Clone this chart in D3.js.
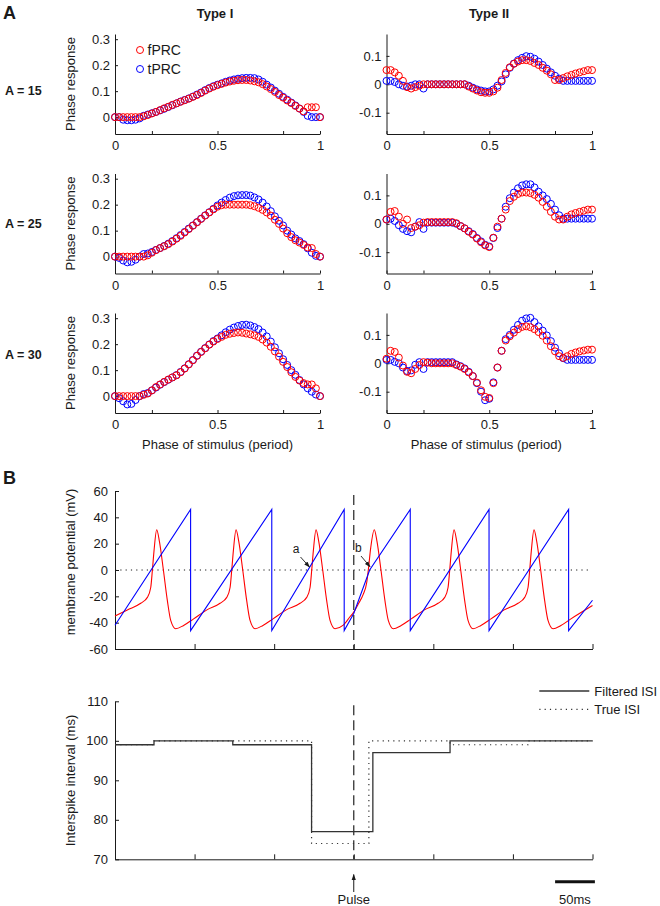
<!DOCTYPE html>
<html>
<head>
<meta charset="utf-8">
<script src="https://cdn.jsdelivr.net/npm/d3@7/dist/d3.min.js"></script>
<style>
html,body{margin:0;padding:0;background:#fff;}
svg{display:block;}
</style>
</head>
<body>
<svg id="fig" width="660" height="906"></svg>
<script>
// ================= DATA =================
// Panel A: phase of stimulus (period)
const phase = [0,0.02,0.04,0.06,0.08,0.1,0.12,0.14,0.16,0.18,0.2,0.22,0.24,0.26,0.28,0.3,0.32,0.34,0.36,0.38,0.4,0.42,0.44,0.46,0.48,0.5,0.52,0.54,0.56,0.58,0.6,0.62,0.64,0.66,0.68,0.7,0.72,0.74,0.76,0.78,0.8,0.82,0.84,0.86,0.88,0.9,0.92,0.94,0.96,0.98,1];

const typeI_A15_fPRC = [0,0,0,0,0,0,0,0.003,0.008,0.014,0.02,0.027,0.034,0.04,0.047,0.053,0.059,0.065,0.071,0.078,0.085,0.093,0.102,0.11,0.117,0.123,0.128,0.133,0.137,0.14,0.142,0.143,0.143,0.141,0.138,0.134,0.127,0.118,0.108,0.097,0.085,0.075,0.064,0.054,0.043,0.033,0.022,0.038,0.038,0.038,0];
const typeI_A15_tPRC = [0,0,-0.01,-0.012,-0.012,-0.01,-0.005,0.005,0.01,0.015,0.02,0.026,0.032,0.039,0.046,0.053,0.06,0.066,0.072,0.079,0.087,0.095,0.104,0.112,0.119,0.125,0.13,0.136,0.141,0.145,0.148,0.15,0.151,0.151,0.15,0.145,0.136,0.125,0.114,0.102,0.09,0.078,0.067,0.056,0.045,0.033,0.02,0.005,0,0,0];
const typeI_A25_fPRC = [0,0,0,0,0,0,0,0,0.005,0.015,0.025,0.033,0.04,0.048,0.058,0.069,0.08,0.093,0.106,0.119,0.132,0.145,0.158,0.17,0.182,0.192,0.198,0.2,0.2,0.2,0.2,0.2,0.2,0.198,0.194,0.188,0.18,0.17,0.158,0.142,0.126,0.108,0.09,0.075,0.063,0.054,0.045,0.035,0.033,0.01,0];
const typeI_A25_tPRC = [0,-0.005,-0.015,-0.022,-0.02,-0.012,0,0.01,0.012,0.018,0.026,0.033,0.041,0.05,0.06,0.071,0.083,0.095,0.108,0.12,0.133,0.146,0.159,0.171,0.184,0.197,0.208,0.218,0.227,0.233,0.236,0.237,0.237,0.235,0.228,0.22,0.208,0.193,0.175,0.155,0.138,0.12,0.1,0.085,0.07,0.06,0.048,0.032,0.015,0.003,0];
const typeI_A30_fPRC = [0,0,0,0,0,0,0,0.005,0.01,0.022,0.035,0.045,0.055,0.064,0.072,0.08,0.092,0.106,0.122,0.138,0.155,0.17,0.184,0.198,0.21,0.22,0.228,0.236,0.24,0.243,0.245,0.244,0.241,0.238,0.234,0.228,0.218,0.206,0.19,0.172,0.152,0.132,0.112,0.092,0.074,0.06,0.05,0.045,0.045,0.03,0];
const typeI_A30_tPRC = [0,-0.008,-0.02,-0.032,-0.03,-0.015,0,0.008,0.012,0.022,0.033,0.044,0.054,0.063,0.072,0.081,0.093,0.107,0.123,0.139,0.156,0.171,0.185,0.199,0.212,0.222,0.234,0.246,0.256,0.264,0.27,0.274,0.275,0.272,0.266,0.258,0.245,0.23,0.21,0.188,0.165,0.142,0.12,0.1,0.082,0.062,0.045,0.03,0.017,0.006,0];

const typeII_A15_fPRC = [0.05,0.05,0.042,0.03,0.012,-0.01,-0.015,-0.01,-0.005,0,0,0,0,0,0,0,0,0,0,0,-0.008,-0.015,-0.022,-0.028,-0.03,-0.03,-0.025,-0.012,0.015,0.04,0.06,0.072,0.08,0.085,0.085,0.082,0.075,0.068,0.058,0.048,0.035,0.015,0.015,0.022,0.028,0.033,0.038,0.042,0.046,0.05,0.05];
const typeII_A15_tPRC = [0.012,0.012,0.008,0,-0.005,-0.008,-0.005,0,0,-0.015,0,0,0,0,0,0,0,0,0,0,-0.005,-0.012,-0.018,-0.022,-0.025,-0.025,-0.018,-0.005,0.01,0.035,0.058,0.073,0.085,0.093,0.099,0.097,0.09,0.08,0.068,0.055,0.042,0.03,0.02,0.012,0.012,0.012,0.012,0.012,0.012,0.012,0.012];
const typeII_A25_fPRC = [0.015,0.042,0.045,0.025,0,0.015,-0.015,-0.01,-0.005,0.004,0.006,0.006,0.006,0.006,0.006,0.006,0.006,0.002,-0.008,-0.016,-0.028,-0.038,-0.052,-0.065,-0.076,-0.082,-0.049,-0.01,0.018,0.05,0.08,0.095,0.105,0.11,0.11,0.108,0.102,0.092,0.077,0.06,0.042,0.025,0.015,0.015,0.025,0.033,0.038,0.042,0.046,0.05,0.05];
const typeII_A25_tPRC = [0.015,0.018,0.01,-0.005,-0.018,-0.026,-0.03,-0.01,0.006,-0.018,0.004,0.004,0.004,0.004,0.004,0.004,0.004,0,-0.008,-0.016,-0.026,-0.036,-0.05,-0.062,-0.074,-0.08,-0.05,-0.015,0.018,0.06,0.09,0.11,0.125,0.135,0.139,0.139,0.128,0.113,0.1,0.087,0.07,0.05,0.03,0.018,0.018,0.018,0.018,0.018,0.018,0.018,0.018];
const typeII_A30_fPRC = [0.016,0.044,0.04,0.02,-0.008,-0.03,-0.035,-0.02,-0.006,0.004,0.002,0,0,0,0,0,0,-0.006,-0.012,-0.02,-0.032,-0.045,-0.068,-0.095,-0.118,-0.122,-0.07,-0.015,0.044,0.08,0.095,0.108,0.12,0.128,0.13,0.127,0.12,0.11,0.097,0.08,0.06,0.042,0.025,0.019,0.025,0.033,0.038,0.042,0.045,0.048,0.048];
const typeII_A30_tPRC = [0.012,0.012,0.005,0,-0.015,-0.027,-0.025,-0.005,0.004,-0.02,0.004,0.004,0.004,0.004,0.004,0.004,0.004,-0.004,-0.01,-0.018,-0.03,-0.045,-0.07,-0.1,-0.13,-0.125,-0.067,-0.015,0.044,0.085,0.1,0.118,0.135,0.15,0.158,0.16,0.145,0.13,0.115,0.098,0.078,0.055,0.035,0.018,0.012,0.012,0.012,0.012,0.012,0.012,0.012];

const phaseTicks = [0,0.18,0.5,0.82,1];
const phaseTickLabels = [0,0.5,1];
const typeIYTicks = [0,0.1,0.2,0.3];
const typeIIYTicks = [-0.1,0,0.1];
const typeTitles = ["Type I","Type II"];
const rowLabels = ["A = 15","A = 25","A = 30"];
const prcLegend = ["fPRC","tPRC"];

// Panel B: membrane potential traces (time in ms, potential in mV)
const redTimes = [0,15.5,32.3,40.7,44.9,47,49,52.4,55.8,60.8,
  65.8,70,76.3,86.2,98.8,115.5,132,140.4,144.6,146.7,
  148.7,152.1,155.5,160.5,165.5,169.7,176,185.9,198.5,215.2,
  232.5,240.9,245.1,247.2,249.2,252.6,256,261,266,270.2,
  276.5,286.4,295.3,300,306,312,316.3,318.3,321.3,325.8,
  329.2,334.2,339.2,343.4,349.7,359.6,372.2,388.8,405.9,414.3,
  418.5,420.6,422.6,426,429.4,434.4,439.4,443.6,449.9,459.8,
  472.4,489,506.4,514.8,519,521.1,523.1,526.5,529.9,534.9,
  539.9,544.1,550.4,560.3,572.9,600];
const redMV = [-35,-30.3,-25.3,-20.8,-13.3,0,14.3,30.6,21.8,0,
  -23.3,-38.3,-44.6,-42.1,-37.1,-30.3,-25.3,-20.8,-13.3,0,
  14.3,30.6,21.8,0,-23.3,-38.3,-44.6,-42.1,-37.1,-30.3,
  -25.3,-20.8,-13.3,0,14.3,30.6,21.8,0,-23.3,-38.3,
  -44.6,-42.1,-35.5,-32,-25.5,-18.3,-9.5,0,16.8,30.6,
  21.8,0,-23.3,-38.3,-44.6,-42.1,-37.1,-30.3,-25.3,-20.8,
  -13.3,0,14.3,30.6,21.8,0,-23.3,-38.3,-44.6,-42.1,
  -37.1,-30.3,-25.3,-20.8,-13.3,0,14.3,30.6,21.8,0,
  -23.3,-38.3,-44.6,-42.1,-37.1,-27];
const blueTimes = [0,95,95,197,197,288,288,300,320,371,371,470,470,570,570,600];
const blueMV = [-42,46,-46,46,-46,46,-46,-33,0,46,-46,46,-46,46,-46,-23];

// Interspike intervals (step series, value holds from each time to the next)
const filteredTimes = [0,49,148,247,324,421,600];
const filteredISI = [99,100,99,77,97,100,100];
const trueTimes = [0,49,148,247,319,421,519,600];
const trueISI = [99,100,100,74,100,99,100,100];

const timeTicks = [0,100,200,300,400,500,600];
const membraneTicks = [-60,-40,-20,0,20,40,60];
const isiTicks = [70,80,90,100,110];
const pulseTime = 300;
const isiLegend = ["Filtered ISI","True ISI"];

// ================= DRAW =================
const FONT = "'Liberation Sans', Arial, Helvetica, sans-serif";
const INK = "#1a1a1a";
const RED = "#ff0000", BLUE = "#0000ff";
const MR = 3.5, MSW = 1;
const svg = d3.select("#fig");
svg.append("rect").attr("width",660).attr("height",906).attr("fill","#fff");

const defs = svg.append("defs");
defs.append("marker").attr("id","ah").attr("viewBox","0 0 10 10")
  .attr("refX",9).attr("refY",5).attr("markerWidth",6).attr("markerHeight",6)
  .attr("orient","auto").attr("markerUnits","userSpaceOnUse")
  .append("path").attr("d","M0,1.5 L10,5 L0,8.5 Z").attr("fill",INK);

function styleAxis(g, size){
  g.attr("font-family", FONT).attr("font-size", size);
  g.select(".domain").attr("stroke", INK).attr("stroke-width",1);
  g.selectAll(".tick line").attr("stroke", INK);
  g.selectAll(".tick text").attr("fill", INK);
}
function text(x, y, s, o = {}){
  const t = svg.append("text").attr("x",x).attr("y",y).text(s)
    .attr("font-family",FONT).attr("font-size",o.size||13)
    .attr("fill",INK).attr("text-anchor",o.anchor||"start");
  if (o.bold) t.attr("font-weight","bold");
  if (o.rotate) t.attr("transform",`rotate(-90,${x},${y})`);
  return t;
}

// ---- Panel A ----
const colX = [[115,320],[386.5,592]];
const rowTop = [34,173.5,313];
const rowLabelY = [94.5,227.5,358.5];
const PH = 100;
const yDomains = [[-0.065,0.32],[-0.175,0.177]];
const yTicksByCol = [typeIYTicks, typeIIYTicks];
const seriesA = [
  [[typeI_A15_fPRC,typeI_A15_tPRC],[typeII_A15_fPRC,typeII_A15_tPRC]],
  [[typeI_A25_fPRC,typeI_A25_tPRC],[typeII_A25_fPRC,typeII_A25_tPRC]],
  [[typeI_A30_fPRC,typeI_A30_tPRC],[typeII_A30_fPRC,typeII_A30_tPRC]]
];

for (let r = 0; r < 3; r++){
  for (let c = 0; c < 2; c++){
    const x = d3.scaleLinear([0,1], colX[c]);
    const y = d3.scaleLinear(yDomains[c], [rowTop[r]+PH, rowTop[r]]);
    const g = svg.append("g");
    const gx = g.append("g").attr("transform",`translate(0,${rowTop[r]+PH})`)
      .call(d3.axisBottom(x).tickValues(phaseTicks).tickSizeInner(-3).tickSizeOuter(0).tickPadding(7)
        .tickFormat(d => phaseTickLabels.includes(d) ? String(d) : ""));
    styleAxis(gx, 13);
    const gy = g.append("g").attr("transform",`translate(${colX[c][0]},0)`)
      .call(d3.axisLeft(y).tickValues(yTicksByCol[c]).tickSizeInner(-3).tickSizeOuter(0).tickPadding(5)
        .tickFormat(d => String(d)));
    styleAxis(gy, 13);
    const [fprc, tprc] = seriesA[r][c];
    g.append("g").selectAll("circle").data(d3.zip(phase, tprc)).join("circle")
      .attr("cx", d => x(d[0])).attr("cy", d => y(d[1])).attr("r",MR)
      .attr("fill","none").attr("stroke",BLUE).attr("stroke-width",MSW);
    g.append("g").selectAll("circle").data(d3.zip(phase, fprc)).join("circle")
      .attr("cx", d => x(d[0])).attr("cy", d => y(d[1])).attr("r",MR)
      .attr("fill","none").attr("stroke",RED).attr("stroke-width",MSW);
  }
  text(5, rowLabelY[r], rowLabels[r], {bold:true, size:12.5});
  text(75, rowTop[r]+50, "Phase response", {anchor:"middle", rotate:true, size:13});
}
text(215, 17.5, typeTitles[0], {anchor:"middle", bold:true, size:13});
text(489, 17.5, typeTitles[1], {anchor:"middle", bold:true, size:13});
text(3, 18.5, "A", {bold:true, size:18});
text((colX[0][0]+colX[0][1])/2, 448.5, "Phase of stimulus (period)", {anchor:"middle", size:13});
text((colX[1][0]+colX[1][1])/2 - 3, 448.5, "Phase of stimulus (period)", {anchor:"middle", size:13});

// legend (top-left panel)
[[RED,50],[BLUE,69]].forEach((d,i) => {
  svg.append("circle").attr("cx",140).attr("cy",d[1]).attr("r",MR)
    .attr("fill","none").attr("stroke",d[0]).attr("stroke-width",MSW);
  text(147.5, d[1]+5, prcLegend[i], {size:14});
});

// ---- Panel B ----
text(3, 483.5, "B", {bold:true, size:18});
const xB = d3.scaleLinear([0,600],[115,592.5]);
const yV = d3.scaleLinear([-60,60],[649,491]);
const yI = d3.scaleLinear([70,110],[859.3,701.3]);

// top chart axes
const gbx = svg.append("g").attr("transform",`translate(0,${yV(-60)})`)
  .call(d3.axisBottom(xB).tickValues(timeTicks).tickSizeInner(-5).tickSizeOuter(0).tickFormat(""));
styleAxis(gbx, 13);
const gby = svg.append("g").attr("transform",`translate(${xB(0)},0)`)
  .call(d3.axisLeft(yV).tickValues(membraneTicks).tickSizeInner(-4).tickSizeOuter(0).tickPadding(7).tickFormat(d => String(d)));
styleAxis(gby, 13);
text(75, 562, "membrane potential (mV)", {anchor:"middle", rotate:true, size:13});

// zero reference line
svg.append("line").attr("x1",xB(0)).attr("x2",xB(596)).attr("y1",yV(0)).attr("y2",yV(0))
  .attr("stroke",INK).attr("stroke-width",1).attr("stroke-dasharray","1.2,4.1");

// traces
const redLine = d3.line().x(d => xB(d[0])).y(d => yV(d[1])).curve(d3.curveMonotoneX);
svg.append("path").datum(d3.zip(redTimes, redMV)).attr("d", redLine)
  .attr("fill","none").attr("stroke",RED).attr("stroke-width",1.1).attr("stroke-linejoin","round");
const blueLine = d3.line().x(d => xB(d[0])).y(d => yV(d[1]));
svg.append("path").datum(d3.zip(blueTimes, blueMV)).attr("d", blueLine)
  .attr("fill","none").attr("stroke",BLUE).attr("stroke-width",1.1);

// pulse dashed lines
svg.append("line").attr("x1",xB(pulseTime)).attr("x2",xB(pulseTime)).attr("y1",yV(57)).attr("y2",yV(-60))
  .attr("stroke","#333").attr("stroke-width",1.3).attr("stroke-dasharray","10,5");
svg.append("line").attr("x1",xB(pulseTime)).attr("x2",xB(pulseTime)).attr("y1",yI(109)).attr("y2",yI(70))
  .attr("stroke","#333").attr("stroke-width",1.3).attr("stroke-dasharray","10,5");

// annotations a / b
text(292.7, 553.3, "a", {size:12});
svg.append("line").attr("x1",300.5).attr("y1",557).attr("x2",309.5).attr("y2",567)
  .attr("stroke",INK).attr("stroke-width",0.9).attr("marker-end","url(#ah)");
text(355, 551.7, "b", {size:12});
svg.append("line").attr("x1",361).attr("y1",556).attr("x2",370).attr("y2",566.7)
  .attr("stroke",INK).attr("stroke-width",0.9).attr("marker-end","url(#ah)");

// bottom chart axes
const gix = svg.append("g").attr("transform",`translate(0,${yI(70)})`)
  .call(d3.axisBottom(xB).tickValues(timeTicks).tickSizeInner(-5).tickSizeOuter(0).tickFormat(""));
styleAxis(gix, 13);
const giy = svg.append("g").attr("transform",`translate(${xB(0)},0)`)
  .call(d3.axisLeft(yI).tickValues(isiTicks).tickSizeInner(-4).tickSizeOuter(0).tickPadding(7).tickFormat(d => String(d)));
styleAxis(giy, 13);
text(75, 780.5, "Interspike interval (ms)", {anchor:"middle", rotate:true, size:13});

const stepLine = d3.line().x(d => xB(d[0])).y(d => yI(d[1])).curve(d3.curveStepAfter);
svg.append("path").datum(d3.zip(trueTimes, trueISI)).attr("d", stepLine)
  .attr("fill","none").attr("stroke","#333").attr("stroke-width",1.2).attr("stroke-dasharray","1.2,4.1");
svg.append("path").datum(d3.zip(filteredTimes, filteredISI)).attr("d", stepLine)
  .attr("fill","none").attr("stroke","#333").attr("stroke-width",1.3);

// ISI legend
svg.append("line").attr("x1",539.3).attr("x2",589.3).attr("y1",691).attr("y2",691)
  .attr("stroke","#333").attr("stroke-width",1.3);
text(594.3, 695.5, isiLegend[0], {size:13});
svg.append("line").attr("x1",539.3).attr("x2",589.3).attr("y1",709.3).attr("y2",709.3)
  .attr("stroke","#333").attr("stroke-width",1.2).attr("stroke-dasharray","1.2,4.1");
text(594.3, 713.8, isiLegend[1], {size:13});

// pulse arrow + label
svg.append("line").attr("x1",xB(pulseTime)).attr("x2",xB(pulseTime)).attr("y1",892).attr("y2",874.5)
  .attr("stroke",INK).attr("stroke-width",1).attr("marker-end","url(#ah)");
text(xB(pulseTime), 903.5, "Pulse", {anchor:"middle", size:13});

// scale bar 50 ms
svg.append("line").attr("x1",xB(553)).attr("x2",xB(603)).attr("y1",881.7).attr("y2",881.7)
  .attr("stroke","#111").attr("stroke-width",3);
text((xB(553)+xB(603))/2, 903.5, "50ms", {anchor:"middle", size:13});
</script>
</body>
</html>
